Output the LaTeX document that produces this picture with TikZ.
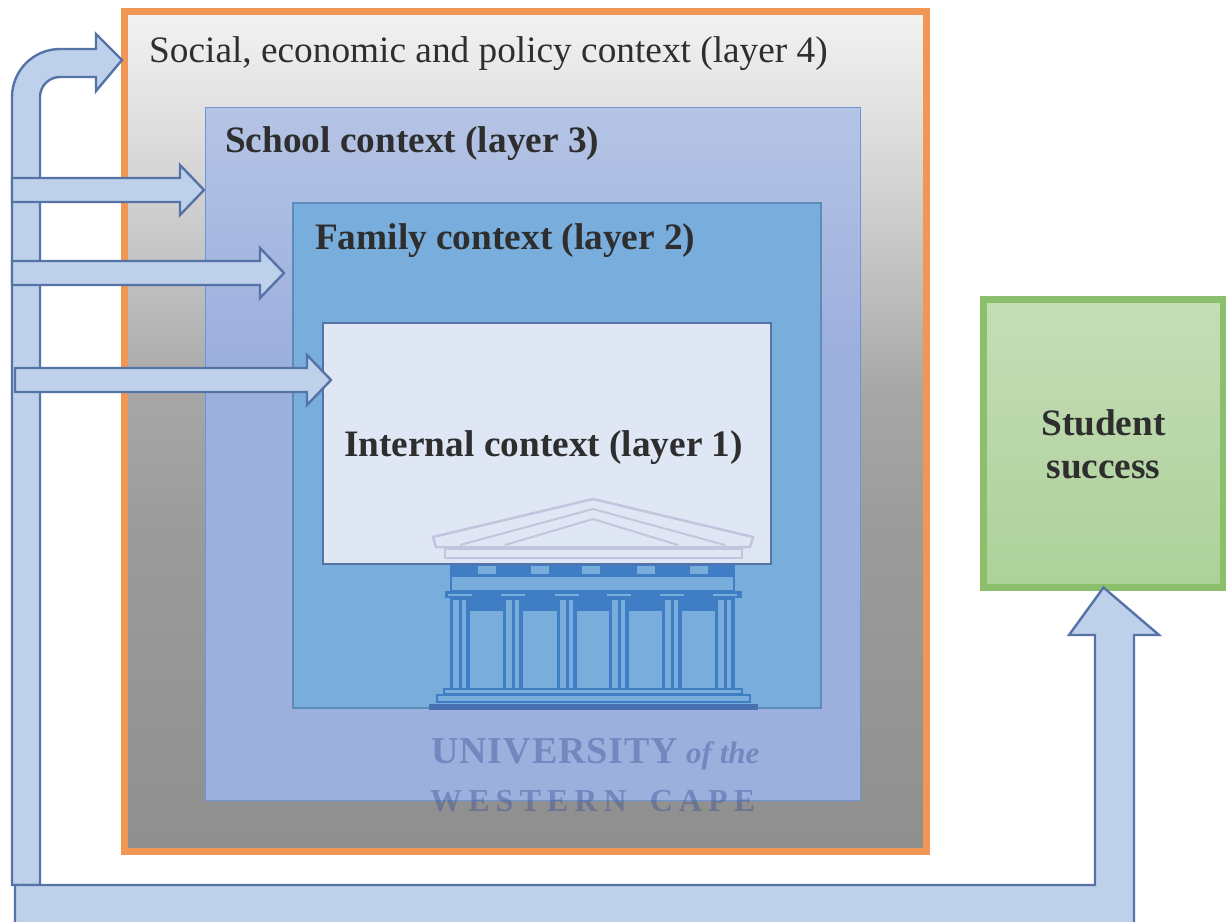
\documentclass[tikz,border=0pt]{standalone}
\usepackage{fontspec}
\setmainfont{Liberation Serif}
\newfontfamily\logofonta[LetterSpace=2.5]{Liberation Serif}
\newfontfamily\logofontb[LetterSpace=19]{Liberation Serif}
\usetikzlibrary{calc}
\definecolor{orangeline}{HTML}{F29656}
\definecolor{greenline}{HTML}{8CBF6C}
\definecolor{greentop}{HTML}{C5DDB7}
\definecolor{greenbottom}{HTML}{ADD19A}
\definecolor{arrowfill}{HTML}{BFD0EA}
\definecolor{arrowline}{HTML}{5673A8}
\definecolor{schoolline}{HTML}{6C94D6}
\definecolor{familyfill}{HTML}{78ADDC}
\definecolor{familyline}{HTML}{5B8DB8}
\definecolor{internalfill}{HTML}{E0E7F4}
\definecolor{logodark}{HTML}{3F7DC5}
\definecolor{logobase}{HTML}{4670B0}
\definecolor{logopale}{HTML}{C1C5DD}
\definecolor{logoink}{HTML}{34488F}
\definecolor{textdark}{HTML}{2E2E2E}
% stops sit in the middle 50bp of the shading
\pgfdeclareverticalshading{socialshade}{100bp}{rgb(0bp)=(.56,.56,.56); rgb(25bp)=(.56,.56,.56); rgb(44.5bp)=(.61,.61,.61); rgb(52bp)=(.65,.65,.65); rgb(61bp)=(.78,.78,.78); rgb(70.5bp)=(.90,.90,.90); rgb(75bp)=(.95,.95,.95); rgb(100bp)=(.95,.95,.95)}
\pgfdeclareverticalshading{schoolshade}{100bp}{rgb(0bp)=(.616,.686,.867); rgb(57.5bp)=(.616,.686,.867); rgb(75bp)=(.71,.769,.898); rgb(100bp)=(.71,.769,.898)}
\tikzset{
  layerbox/.style={draw,anchor=north west,inner sep=0pt,outer sep=0pt},
  blockarrow/.style={draw=arrowline,fill=arrowfill,line width=2.4pt,line join=miter},
  layertext/.style={anchor=base west,inner sep=0pt,text=textdark,font=\fontsize{37.3}{37.3}\selectfont\bfseries},
  logotext/.style={anchor=base west,inner sep=0pt,text=logoink,opacity=0.38},
}
\newcommand{\sidearrow}[2]{
  \draw[blockarrow] ($(#1)+(0,-12)$) -- ($(#2)+(-24,-12)$) -- ($(#2)+(-24,-25)$) -- (#2)
    -- ($(#2)+(-24,25)$) -- ($(#2)+(-24,12)$) -- ($(#1)+(0,12)$) -- cycle;
}
\begin{document}
\begin{tikzpicture}[x=1pt,y=-1pt]
\useasboundingbox (0,0) rectangle (1226,921);
% layers
\node[layerbox,draw=orangeline,line width=7pt,shading=socialshade,minimum width=802pt,minimum height=840pt] (social) at (124.5,11.5) {};
\node[layerbox,draw=schoolline,line width=1pt,shading=schoolshade,minimum width=655pt,minimum height=693pt] (school) at (205,107) {};
\node[layerbox,draw=familyline,line width=2pt,fill=familyfill,minimum width=528pt,minimum height=505pt] (family) at (293,203) {};
\node[layerbox,draw=arrowline,line width=2pt,fill=internalfill,minimum width=448pt,minimum height=241pt] (internal) at (323,323) {};
\node[layerbox,draw=greenline,line width=7pt,top color=greentop,bottom color=greenbottom,minimum width=240pt,minimum height=288pt] (success) at (983.5,299.5) {};
% logo
\draw[logopale,line width=2.5pt] (433,537) -- (593,499) -- (753,537) -- (750,547) -- (436,547) -- cycle;
\draw[logopale,line width=2pt] (460,545) -- (593,509) -- (725,545);
\draw[logopale,line width=2pt] (505,545) -- (593,519) -- (678,545);
\draw[logopale,line width=2pt] (445,549) rectangle (742,558);
\fill[logodark] (450,565) rectangle (735,575);
\foreach \wx in {478,531,582,637,690}{
  \fill[familyfill] (\wx,566) rectangle (\wx+18,574);
}
\draw[logodark,line width=1.5pt] (451,576) rectangle (734,591);
\fill[logodark] (445,591) rectangle (742,598);
\fill[logodark] (450,598) rectangle (735,611);
\foreach \cx in {460,513,567,619,672,725}{
  \fill[familyfill] (\cx-12,594) rectangle (\cx+12,596);
  \fill[logodark] (\cx-10,598) rectangle (\cx+10,689);
  \fill[familyfill] (\cx-7,600) rectangle (\cx-1,688);
  \fill[familyfill] (\cx+2,600) rectangle (\cx+6,688);
}
\draw[logodark,line width=1.5pt] (444,689) rectangle (742,694);
\draw[logodark,line width=1.5pt] (437,695) rectangle (750,702);
\fill[logobase] (429,704) rectangle (758,710);
\node[logotext,font=\logofonta\bfseries\fontsize{38}{38}\selectfont] (logoa) at (431,763) {UNIVERSITY};
\node[logotext,font=\itshape\bfseries\fontsize{31}{31}\selectfont] (logob) at (686,763) {of the};
\node[logotext,font=\logofontb\bfseries\fontsize{32}{32}\selectfont] (logoc) at (430,811) {WESTERN\hspace{9pt} CAPE};
% labels
\node[layertext,font=\fontsize{37.3}{37.3}\selectfont] (sociallabel) at (149,62) {Social, economic and policy context (layer 4)};
\node[layertext] (schoollabel) at (225,152) {School context (layer 3)};
\node[layertext] (familylabel) at (315,249) {Family context (layer 2)};
\node[layertext] (internallabel) at (344,456) {Internal context (layer 1)};
\node[layertext,anchor=base] (studentlabel) at (1103.5,435) {Student};
\node[layertext,anchor=base] (successlabel) at (1103.5,478) {success};
% arrows
\coordinate (spinethree) at (12,190);
\coordinate (tipthree) at (204,190);
\coordinate (spinetwo) at (12,273);
\coordinate (tiptwo) at (284,273);
\coordinate (spineone) at (15,380);
\coordinate (tipone) at (331,380);
\draw[blockarrow] (12,885) -- (12,97) arc[start angle=180,end angle=270,radius=48] -- (96,49) -- (96,34) -- (122,60) -- (96,91) -- (96,77) -- (60,77) arc[start angle=270,end angle=180,radius=20] -- (40,885) -- cycle;
\sidearrow{spinethree}{tipthree}
\sidearrow{spinetwo}{tiptwo}
\sidearrow{spineone}{tipone}
\draw[blockarrow] (15,935) -- (15,885) -- (1095,885) -- (1095,635) -- (1069,635) -- (success.south) -- (1159,635) -- (1134,635) -- (1134,935) -- cycle;
\end{tikzpicture}
\end{document}
